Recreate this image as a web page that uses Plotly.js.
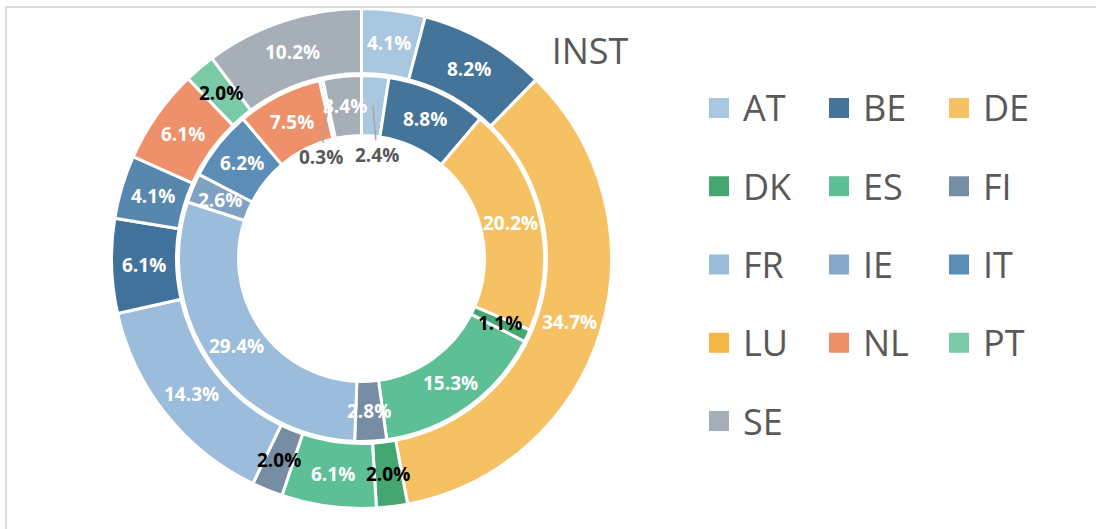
<!DOCTYPE html>
<html>
<head>
<meta charset="utf-8">
<script src="https://cdn.plot.ly/plotly-3.0.1.min.js"></script>
<style>
html,body{margin:0;padding:0;background:#ffffff;}
#chart{width:1096px;height:529px;}
</style>
</head>
<body>
<div id="chart"></div>
<script>
// ---------------- DATA ----------------
const categories   = ['AT','BE','DE','DK','ES','FI','FR','IE','IT','LU','NL','PT','SE'];
const outerValues  = [4.1, 8.2, 34.7, 2.0, 6.1, 2.0, 14.3, 6.1, 4.1, 0, 6.1, 2.0, 10.2];
const innerValues  = [2.4, 8.8, 20.2, 1.1, 15.3, 2.8, 29.4, 2.6, 6.2, 0, 7.5, 0.3, 3.4];
const titleText    = 'INST';

// ---------------- STYLE ----------------
const legendColors = ['#A9C8E0','#44749A','#F6C163','#44A772','#5CBF96','#768DA3','#9BBCDB','#86A8C6','#5C8DB4','#F5B646','#EE9069','#7ACAA8','#A6AEB8'];
const outerColors  = ['#A9C8E0','#44749A','#F6C163','#44A772','#5CBF96','#768DA3','#9BBCDB','#41729B','#5887AE','#F5B646','#EE9069','#7ACAA8','#A6AEB8'];
const innerColors  = ['#A9C8E0','#44749A','#F6C163','#44A772','#5CBF96','#768DA3','#9BBCDB','#7FA2C3','#5B8DB6','#F5B646','#EE9069','#7ACAA8','#A6AEB8'];
const outerTextColors = ['#FFFFFF','#FFFFFF','#FFFFFF','#000000','#FFFFFF','#000000','#FFFFFF','#FFFFFF','#FFFFFF','#FFFFFF','#FFFFFF','#000000','#FFFFFF'];
const innerTextColors = ['#FFFFFF','#FFFFFF','#FFFFFF','#000000','#FFFFFF','#FFFFFF','#FFFFFF','#FFFFFF','#FFFFFF','#FFFFFF','#FFFFFF','#FFFFFF','#FFFFFF'];
// labels placed in the hole with a leader line: [dx, dy] in px
const innerOutside = {AT:[4,49], PT:[-7,48]};

const W = 1096, H = 529;
const CX = 361.5, CY = 258.5;
const LINE = 3;
const OUTER_R = 250, OUTER_HOLE = 185;
const INNER_R = 183, INNER_HOLE = 123;
const FONT = 'Open Sans, "Noto Sans", sans-serif';
const TXT = '#595959';

function domainFor(r){
  return {x:[(CX-r)/W,(CX+r)/W], y:[(H-CY-r)/H,(H-CY+r)/H]};
}
function keep(values){ return categories.map((c,i)=>i).filter(i=>values[i]>0); }

function ringTrace(values, colors, r, hole, name){
  const idx = keep(values);
  return {
    type:'pie', name:name,
    labels: idx.map(i=>categories[i]),
    values: idx.map(i=>values[i]),
    marker:{colors: idx.map(i=>colors[i]), line:{color:'#FFFFFF', width:LINE}},
    hole: hole/r, domain: domainFor(r),
    sort:false, direction:'clockwise', rotation:0,
    textinfo:'none', hoverinfo:'label+value', showlegend:false
  };
}

function ringLabels(values, textColors, r, hole, outside){
  const idx = keep(values);
  const total = idx.reduce((s,i)=>s+values[i],0);
  const rm = ((hole + LINE/2) + (r - LINE/2))/2;
  let cum = 0;
  const anns = [];
  idx.forEach(i=>{
    const a = (cum + values[i]/2)/total*2*Math.PI;
    cum += values[i];
    const px = CX + rm*Math.sin(a), py = CY - rm*Math.cos(a);
    const off = outside[categories[i]];
    anns.push({
      xref:'paper', yref:'paper', x:px/W, y:1-py/H,
      xanchor:'center', yanchor:'middle',
      text: values[i].toFixed(1)+'%',
      showarrow: !!off, ax: off?off[0]:0, ay: off?off[1]:0,
      arrowhead:0, arrowwidth:1.5, arrowcolor:'#A6A6A6', standoff:0,
      font:{family:FONT, size:19, weight:700, color: off ? TXT : textColors[i]}
    });
  });
  return anns;
}

// legend (custom grid, 3 columns)
const legShapes = [], legAnns = [];
categories.forEach((c,k)=>{
  const col = k%3, row = Math.floor(k/3);
  const sx = 709 + col*120, sy = 108 + row*78.25;
  legShapes.push({type:'rect', xref:'paper', yref:'paper',
    x0:sx/W, x1:(sx+20)/W, y0:1-(sy+10)/H, y1:1-(sy-10)/H,
    fillcolor:legendColors[k], line:{width:0}});
  legAnns.push({xref:'paper', yref:'paper', x:(sx+32)/W, y:1-sy/H,
    xanchor:'left', yanchor:'middle', showarrow:false, text:c,
    font:{family:FONT, size:36, color:TXT}});
});

// chart border (top and left visible)
const borderShapes = [
  {type:'line', xref:'paper', yref:'paper', x0:6/W, x1:1.02, y0:1-7/H, y1:1-7/H, line:{color:'#D9D9D9', width:2}},
  {type:'line', xref:'paper', yref:'paper', x0:6/W, x1:6/W, y0:1-7/H, y1:-0.02, line:{color:'#D9D9D9', width:2}}
];

const data = [
  ringTrace(outerValues, outerColors, OUTER_R, OUTER_HOLE, 'outer'),
  ringTrace(innerValues, innerColors, INNER_R, INNER_HOLE, 'inner')
];

const layout = {
  width:W, height:H,
  margin:{l:0,r:0,t:0,b:0},
  paper_bgcolor:'#FFFFFF', plot_bgcolor:'#FFFFFF',
  showlegend:false,
  title:{text:titleText, xref:'container', yref:'container', x:590/W, y:1-51.5/H,
         xanchor:'center', yanchor:'middle', font:{family:FONT, size:36, color:TXT}},
  shapes: borderShapes.concat(legShapes),
  annotations: ringLabels(outerValues, outerTextColors, OUTER_R, OUTER_HOLE, {})
    .concat(ringLabels(innerValues, innerTextColors, INNER_R, INNER_HOLE, innerOutside))
    .concat(legAnns)
};

Plotly.newPlot('chart', data, layout, {displayModeBar:false, staticPlot:true});
</script>
</body>
</html>
